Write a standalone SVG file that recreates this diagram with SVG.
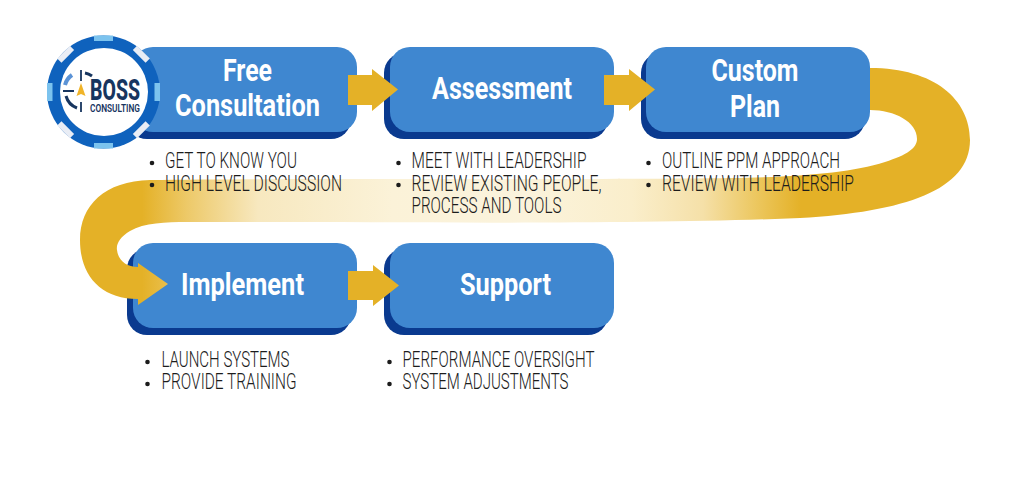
<svg xmlns="http://www.w3.org/2000/svg" width="1024" height="485" viewBox="0 0 1024 485">
<style>
.face{fill:#3f87d0}
.depth{fill:#0a3a8f}
.title{font-family:Roboto,"Liberation Sans",sans-serif;font-weight:700;font-size:31px;fill:#fff}
.note{font-family:Roboto,"Liberation Sans",sans-serif;font-weight:300;font-size:22px;fill:#1c1c1c}
.dot{fill:#1c1c1c}
.gold{fill:#e4b127}
</style>
<defs>
<linearGradient id="band" gradientUnits="userSpaceOnUse" x1="80" y1="0" x2="970" y2="0">
<stop offset="0" stop-color="#e4b127"/>
<stop offset="0.07" stop-color="#e4b127"/>
<stop offset="0.12" stop-color="#edc968"/>
<stop offset="0.2" stop-color="#f7e8bf"/>
<stop offset="0.35" stop-color="#fbf2d8"/>
<stop offset="0.5" stop-color="#fbf3dc"/>
<stop offset="0.62" stop-color="#faeecb"/>
<stop offset="0.7" stop-color="#f5e0a8"/>
<stop offset="0.76" stop-color="#ecc75f"/>
<stop offset="0.81" stop-color="#e4b127"/>
<stop offset="1" stop-color="#e4b127"/>
</linearGradient>
</defs>
<rect width="1024" height="485" fill="#fff"/>
<g id="node-free-consultation">
<rect class="depth" x="127" y="53" width="224" height="86" rx="20"/>
<rect class="face" x="133" y="47" width="224" height="85" rx="20"/>
<text class="title" x="247.500" y="81" text-anchor="middle" textLength="49" lengthAdjust="spacingAndGlyphs">Free</text>
<text class="title" x="247.500" y="116" text-anchor="middle" textLength="145" lengthAdjust="spacingAndGlyphs">Consultation</text>
</g>
<g id="node-assessment">
<rect class="depth" x="384" y="53" width="224" height="86" rx="20"/>
<rect class="face" x="390" y="47" width="224" height="85" rx="20"/>
<text class="title" x="502" y="99" text-anchor="middle" textLength="140" lengthAdjust="spacingAndGlyphs">Assessment</text>
</g>
<g id="node-custom-plan">
<rect class="depth" x="641" y="53" width="224" height="86" rx="20"/>
<rect class="face" x="646" y="47" width="224" height="85" rx="20"/>
<text class="title" x="755" y="81" text-anchor="middle" textLength="87" lengthAdjust="spacingAndGlyphs">Custom</text>
<text class="title" x="755" y="117" text-anchor="middle" textLength="50" lengthAdjust="spacingAndGlyphs">Plan</text>
</g>
<g id="node-implement">
<rect class="depth" x="127" y="249" width="224" height="86" rx="20"/>
<rect class="face" x="133" y="243" width="224" height="85" rx="20"/>
<text class="title" x="242.500" y="295" text-anchor="middle" textLength="123" lengthAdjust="spacingAndGlyphs">Implement</text>
</g>
<g id="node-support">
<rect class="depth" x="384" y="249" width="224" height="86" rx="20"/>
<rect class="face" x="390" y="243" width="224" height="85" rx="20"/>
<text class="title" x="505.500" y="295" text-anchor="middle" textLength="91" lengthAdjust="spacingAndGlyphs">Support</text>
</g>
<g id="connectors">
<path fill="url(#band)" d="M870 68C935 68 970 100 970 140C970 190 905 212 800 218C640 225 400 222 200 222C175 222 147 221 130 231C120 237 116 244 117 250C118 260 126 267 138 267L138 263L168 284L138 305L138 299C100 299 80 275 80 240C80 205 105 181 150 180C300 178 600 180 730 178C800 177 850 173 885 162C907 155 917 148 917 139C917 122 895 110 870 110Z"/>
<path class="gold" d="M348 75H372V69L398 89.500L372 111V105H348Z"/>
<path class="gold" d="M604 75H629V69L655 89.500L629 111V105H604Z"/>
<path class="gold" d="M348 271H373V265L399 285.500L373 306V300H348Z"/>
</g>
<g id="notes-free-consultation">
<circle class="dot" cx="152" cy="163" r="2.300"/><circle class="dot" cx="152" cy="185" r="2.300"/>
<text class="note" x="165" y="168" textLength="132" lengthAdjust="spacingAndGlyphs">GET TO KNOW YOU</text>
<text class="note" x="165" y="191" textLength="177" lengthAdjust="spacingAndGlyphs">HIGH LEVEL DISCUSSION</text>
</g>
<g id="notes-assessment">
<circle class="dot" cx="398.500" cy="163" r="2.300"/><circle class="dot" cx="398.500" cy="185" r="2.300"/>
<text class="note" x="411.500" y="168" textLength="175" lengthAdjust="spacingAndGlyphs">MEET WITH LEADERSHIP</text>
<text class="note" x="411.500" y="191" textLength="190" lengthAdjust="spacingAndGlyphs">REVIEW EXISTING PEOPLE,</text>
<text class="note" x="411.500" y="213" textLength="150" lengthAdjust="spacingAndGlyphs">PROCESS AND TOOLS</text>
</g>
<g id="notes-custom-plan">
<circle class="dot" cx="648.500" cy="163" r="2.300"/><circle class="dot" cx="648.500" cy="185" r="2.300"/>
<text class="note" x="662" y="168" textLength="178" lengthAdjust="spacingAndGlyphs">OUTLINE PPM APPROACH</text>
<text class="note" x="662" y="191" textLength="192" lengthAdjust="spacingAndGlyphs">REVIEW WITH LEADERSHIP</text>
</g>
<g id="notes-implement">
<circle class="dot" cx="147.500" cy="362" r="2.300"/><circle class="dot" cx="147.500" cy="384" r="2.300"/>
<text class="note" x="161.500" y="367" textLength="128" lengthAdjust="spacingAndGlyphs">LAUNCH SYSTEMS</text>
<text class="note" x="161.500" y="389" textLength="135" lengthAdjust="spacingAndGlyphs">PROVIDE TRAINING</text>
</g>
<g id="notes-support">
<circle class="dot" cx="389.500" cy="362" r="2.300"/><circle class="dot" cx="389.500" cy="384" r="2.300"/>
<text class="note" x="402.500" y="367" textLength="192" lengthAdjust="spacingAndGlyphs">PERFORMANCE OVERSIGHT</text>
<text class="note" x="402.500" y="389" textLength="166" lengthAdjust="spacingAndGlyphs">SYSTEM ADJUSTMENTS</text>
</g>
<g id="logo">
<circle cx="103.500" cy="92" r="56.500" fill="#0f62bd"/>
<g fill="#7cc3ee">
<rect x="94" y="35.500" width="19" height="5.500"/>
<rect x="94" y="143" width="19" height="5.500"/>
<rect x="47" y="83" width="5.500" height="18"/>
<rect x="154.500" y="83" width="5.500" height="18"/>
</g>
<g fill="#e9edf5">
<rect x="-9" y="-56.500" width="18" height="6" transform="translate(103.500 92) rotate(45)"/>
<rect x="-9" y="-56.500" width="18" height="6" transform="translate(103.500 92) rotate(135)"/>
<rect x="-9" y="-56.500" width="18" height="6" transform="translate(103.500 92) rotate(225)"/>
<rect x="-9" y="-56.500" width="18" height="6" transform="translate(103.500 92) rotate(315)"/>
</g>
<circle cx="104" cy="92" r="44" fill="#fff"/>
<path d="M72 75A18 18 0 0 0 65 85" fill="none" stroke="#5b93d6" stroke-width="4"/>
<path d="M66 96A18 18 0 0 0 77 108" fill="none" stroke="#17355f" stroke-width="3"/>
<path d="M85 73A18 18 0 0 1 92 76" fill="none" stroke="#17355f" stroke-width="3"/>
<path d="M81 70V81M81 102V112M63 91H74" stroke="#17355f" stroke-width="1.800" fill="none"/>
<path d="M81 83L85.500 96L81 94L76.500 96Z" fill="#f0b429"/>
<text x="90" y="100" font-family="Roboto,'Liberation Sans',sans-serif" font-weight="800" font-size="29" fill="#17355f" textLength="50" lengthAdjust="spacingAndGlyphs">BOSS</text>
<text x="90" y="112" font-family="Roboto,'Liberation Sans',sans-serif" font-weight="600" font-size="10" fill="#17355f" textLength="50" lengthAdjust="spacingAndGlyphs">CONSULTING</text>
</g>
</svg>
